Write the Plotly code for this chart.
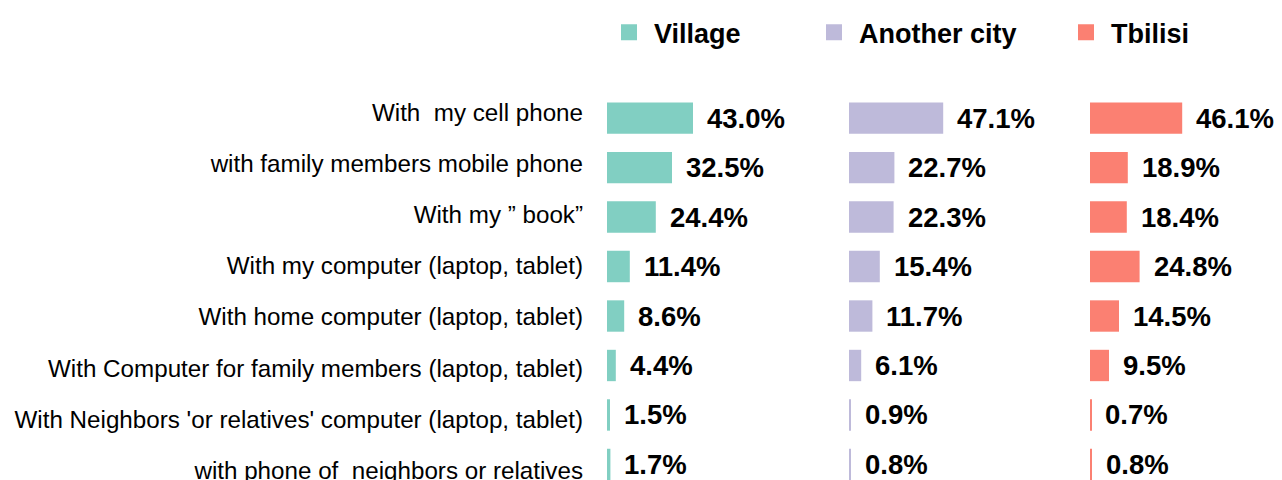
import plotly.graph_objects as go

categories = [
    "With\u00a0 my cell phone",
    "with family members mobile phone",
    "With my \u201d book\u201d",
    "With my computer (laptop, tablet)",
    "With home computer (laptop, tablet)",
    "With Computer for family members (laptop, tablet)",
    "With Neighbors 'or relatives' computer (laptop, tablet)",
    "with phone of\u00a0 neighbors or relatives",
]
series_names = ["Village", "Another city", "Tbilisi"]
village = [43.0, 32.5, 24.4, 11.4, 8.6, 4.4, 1.5, 1.7]
another_city = [47.1, 22.7, 22.3, 15.4, 11.7, 6.1, 0.9, 0.8]
tbilisi = [46.1, 18.9, 18.4, 24.8, 14.5, 9.5, 0.7, 0.8]
colors = ["#81cfc2", "#bebada", "#fb8072"]

W, H = 1282, 480
OFF = 8  # page body offset
FONT = "Liberation Sans, Arial, sans-serif"

panel_left = [607 - OFF, 849 - OFF, 1090 - OFF]
px_per_unit = 2.0
panel_width = [240, 240, 200]
legend_sym_x = [624 - OFF, 829 - OFF, 1081 - OFF]
ITEMW = 40

fig = go.Figure()
series = [village, another_city, tbilisi]
axes = ["x", "x2", "x3"]
legends = ["legend", "legend2", "legend3"]
annotations = []
for i, (name, vals) in enumerate(zip(series_names, series)):
    fig.add_trace(go.Bar(
        x=vals, y=categories, orientation="h", name=f"<b>{name}</b>",
        marker=dict(color=colors[i], line=dict(width=0)),
        width=0.634, xaxis=axes[i], yaxis="y", legend=legends[i],
        legendgroup=name, showlegend=False, hoverinfo="skip",
    ))
    # legend entry with a larger square swatch
    fig.add_trace(go.Scatter(
        x=[None], y=[None], mode="markers", name=f"<b>{name}</b>",
        marker=dict(symbol="square", size=16, color=colors[i], line=dict(width=0)),
        xaxis=axes[i], yaxis="y", legend=legends[i], legendgroup=name,
        showlegend=True, hoverinfo="skip",
    ))
    for c, v in zip(categories, vals):
        annotations.append(dict(
            x=v, y=c, xref=axes[i], yref="y", text=f"<b>{v:.1f}%</b>",
            showarrow=False, xanchor="left", yanchor="middle", xshift=12, yshift=0,
            font=dict(size=27.5, color="black", family=FONT),
        ))

# invisible carrier trace so the category-label axis is drawn
fig.add_trace(go.Scatter(
    x=[0] * len(categories), y=list(range(len(categories))),
    xaxis="x", yaxis="y2", mode="markers", marker=dict(opacity=0, size=1),
    showlegend=False, hoverinfo="skip",
))

top = 72
layout = dict(
    width=W, height=H,
    margin=dict(l=0, r=0, t=0, b=0),
    paper_bgcolor="white", plot_bgcolor="white",
    font=dict(family=FONT, color="black"),
    annotations=annotations,
    yaxis=dict(
        type="category", range=[7.316, -0.684],
        domain=[(H - top - 400) / H, (H - top) / H],
        anchor="x", showgrid=False, zeroline=False, showline=False,
        ticks="", showticklabels=False, automargin=False,
    ),
    yaxis2=dict(
        overlaying="y", anchor="x", side="left",
        range=[7.192, -0.554], tickmode="array",
        tickvals=list(range(len(categories))), ticktext=categories,
        showgrid=False, zeroline=False, showline=False, ticks="",
        tickfont=dict(size=24.2, color="black", family=FONT),
        ticklabelstandoff=23, automargin=False, fixedrange=True,
    ),
)
for i in range(3):
    key = "xaxis" if i == 0 else f"xaxis{i+1}"
    x0 = panel_left[i] / W
    x1 = (panel_left[i] + panel_width[i]) / W
    layout[key] = dict(
        domain=[x0, min(x1, 1)], range=[0, panel_width[i] / px_per_unit],
        anchor="y", visible=False, fixedrange=True,
    )
    layout[legends[i]] = dict(
        x=(legend_sym_x[i] - 20) / W, xanchor="left",
        y=1 - 20 / H, yanchor="middle",
        orientation="h", bgcolor="rgba(0,0,0,0)",
        font=dict(size=27, color="black", family=FONT), itemwidth=ITEMW,
    )
fig.update_layout(**layout)

fig.write_html("out.html")
